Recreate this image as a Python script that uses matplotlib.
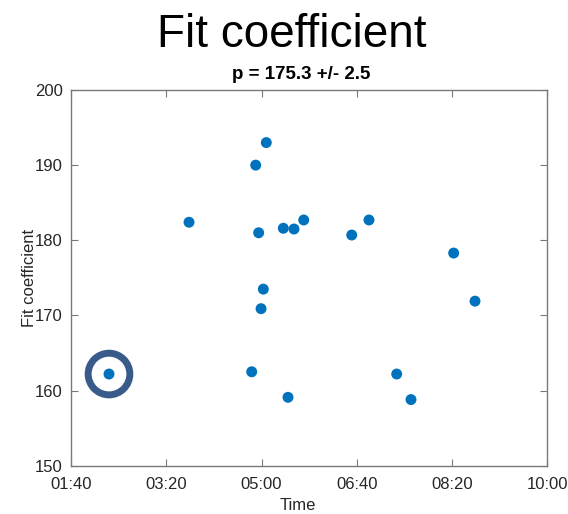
import matplotlib
matplotlib.use("Agg")
import matplotlib.pyplot as plt
from matplotlib.ticker import FixedLocator, FuncFormatter

plt.rcParams['font.family'] = ['Liberation Sans', 'DejaVu Sans']

# Measurement times (minutes after midnight) and fitted coefficients
time_min = [139.9, 223.9, 293.9, 305.0, 297.0, 301.9, 299.5, 289.7, 327.8,
            322.9, 334.1, 344.3, 394.7, 412.8, 441.9, 456.9, 501.7, 524.1]
coeff = [162.2, 182.4, 190.0, 193.0, 181.0, 173.5, 170.9, 162.5, 159.1,
         181.6, 181.5, 182.7, 180.7, 182.7, 162.2, 158.8, 178.3, 171.9]

# Highlighted measurement
highlight_index = 0

x_ticks = [100, 200, 300, 400, 500, 600]
y_ticks = [150, 160, 170, 180, 190, 200]

title_text = "Fit coefficient"
subtitle_text = "p = 175.3 +/- 2.5"
x_label = "Time"
y_label = "Fit coefficient"

axis_gray = '#7a7a7a'
text_gray = '#262626'
dot_blue = '#0072BD'
ring_blue = '#395b8a'

W, H = 568, 514
ax_left, ax_right, ax_top, ax_bottom = 71, 547.3, 90, 465.7
ax_w, ax_h = ax_right - ax_left, ax_bottom - ax_top

fig = plt.figure(figsize=(W / 100, H / 100), dpi=100)
ax = fig.add_axes([ax_left / W, 1 - ax_bottom / H, ax_w / W, ax_h / H])

ax.scatter(time_min, coeff, s=62, color=dot_blue, edgecolors='none', zorder=3)
ax.scatter([time_min[highlight_index]], [coeff[highlight_index]], s=900,
           facecolors='none', edgecolors=ring_blue, linewidths=5.0, zorder=4)

ax.set_xlim(x_ticks[0], x_ticks[-1])
ax.set_ylim(y_ticks[0], y_ticks[-1])
ax.xaxis.set_major_locator(FixedLocator(x_ticks))
ax.yaxis.set_major_locator(FixedLocator(y_ticks))
ax.xaxis.set_major_formatter(FuncFormatter(lambda v, p: f"{int(v) // 60:02d}:{int(v) % 60:02d}"))
ax.yaxis.set_major_formatter(FuncFormatter(lambda v, p: f"{int(v)}"))

for sp in ax.spines.values():
    sp.set_color(axis_gray)
    sp.set_linewidth(1.0)
ax.tick_params(direction='in', length=5, width=0.8, color=axis_gray,
               top=True, right=True, labelsize=12, labelcolor=text_gray, pad=6)
ax.tick_params(axis='x', pad=8)

ax.set_xlabel(x_label, fontsize=12, color=text_gray)
ax.set_ylabel(y_label, fontsize=12, color=text_gray)
# label anchors in axes fractions
ax.xaxis.set_label_coords((298 - ax_left) / ax_w, -(498 - ax_bottom) / ax_h)
ax.yaxis.set_label_coords((36.5 - ax_left) / ax_w, 0.5)

fig.text(292 / W, 1 - 46.7 / H, title_text, fontsize=33, ha='center', va='baseline', color='black')
fig.text(301.5 / W, 1 - 79 / H, subtitle_text, fontsize=13.5, fontweight='bold',
         ha='center', va='baseline', color='black')

fig.savefig("out.png", dpi=100)
